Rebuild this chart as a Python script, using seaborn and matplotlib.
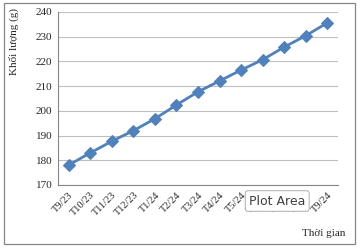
import matplotlib
matplotlib.use("Agg")
import matplotlib.pyplot as plt
import seaborn as sns
import pandas as pd
from matplotlib.patches import Rectangle

months = ["T9/23", "T10/23", "T11/23", "T12/23", "T1/24", "T2/24", "T3/24",
          "T4/24", "T5/24", "T6/24", "T7/24", "T8/24", "T9/24"]
weights = [178.1, 183.0, 187.7, 192.0, 196.8, 202.4, 207.7, 212.1, 216.5,
           220.7, 225.8, 230.4, 235.6]
yticks = [170, 180, 190, 200, 210, 220, 230, 240]

df = pd.DataFrame({"month": months, "weight": weights})
df["x"] = range(len(months))

sns.set_theme(style="white")
plt.rcParams["font.family"] = ["Liberation Serif", "DejaVu Serif"]

fig = plt.figure(figsize=(3.62, 2.49), dpi=100)
W, H = 362, 249
ax = fig.add_axes([58 / W, 1 - 185 / H, (338 - 58) / W, (185 - 12) / H])

color = "#4F81BD"
sns.lineplot(data=df, x="x", y="weight", ax=ax, color=color, linewidth=2.0,
             marker="D", markersize=6.5, markeredgecolor=color, markerfacecolor=color)

ax.set_xlim(-0.5, len(months) - 0.5)
ax.set_ylim(170, 240)
ax.set_yticks(yticks)
ax.set_yticklabels([str(v) for v in yticks], fontsize=8)
ax.set_xticks(df["x"])
ax.set_xticklabels(months, fontsize=7.5, rotation=45, ha="right", rotation_mode="anchor")
ax.tick_params(axis="both", length=0, pad=4)
ax.set_xlabel("")
ax.set_ylabel("")
ax.grid(axis="y", color="#BFBFBF", linewidth=0.8)
ax.set_axisbelow(True)
for s in ["top", "right"]:
    ax.spines[s].set_visible(False)
for s in ["left", "bottom"]:
    ax.spines[s].set_color("#868686")
    ax.spines[s].set_linewidth(0.8)

# outer chart border
fig.patches.append(Rectangle((4 / W, 1 - 244 / H), (355 - 4) / W, (244 - 3) / H,
                             transform=fig.transFigure, fill=False,
                             edgecolor="#868686", linewidth=0.9))

fig.text(14 / W, 1 - 41 / H, "Khối lượng (g)", rotation=90, fontsize=8,
         ha="center", va="center")
fig.text(345 / W, 1 - 233 / H, "Thời gian", fontsize=8, ha="right", va="center")

# tooltip
fig.text(249 / W, 1 - 201 / H, "Plot Area", fontsize=9, family="DejaVu Sans",
         color="#404040", ha="left", va="center",
         bbox=dict(boxstyle="round,pad=0.3,rounding_size=0.2", facecolor="white",
                   edgecolor="#A0A0A0", linewidth=0.6))

fig.savefig("out.png", dpi=100)
